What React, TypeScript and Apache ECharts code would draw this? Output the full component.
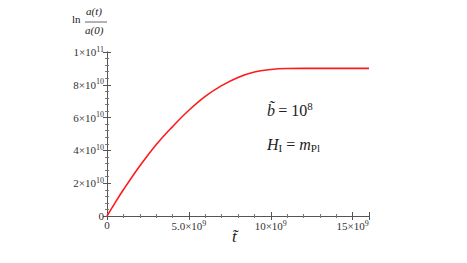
import React, { useEffect, useRef } from "react";
import * as echarts from "echarts";

// t in units of 1e9, ln(a(t)/a(0)) in units of 1e10
const tValues = [0, 0.5, 1, 2, 3, 4, 5, 6, 7, 8, 9, 10, 11, 12, 16];
const lnValues = [0, 0.82, 1.6, 3.05, 4.35, 5.45, 6.45, 7.3, 7.95, 8.45, 8.78, 8.93, 8.99, 9.0, 9.0];
const xTickLabels: Record<number, string> = { 0: "{b|0}", 5: "{b|5.0×10}{s|9}", 10: "{b|10×10}{s|9}", 15: "{b|15×10}{s|9}" };
const yTickLabels: Record<number, string> = { 0: "{b|0}", 2: "{b|2×10}{s|10}", 4: "{b|4×10}{s|10}", 6: "{b|6×10}{s|10}", 8: "{b|8×10}{s|10}", 10: "{b|1×10}{s|11}" };

const SERIF = "'Liberation Serif', 'DejaVu Serif', serif";
const rich = {
  b: { fontFamily: SERIF, fontSize: 11, color: "#333" },
  s: { fontFamily: SERIF, fontSize: 8, color: "#333", padding: [0, 0, 6, 0] },
};

export default function App() {
  const ref = useRef<HTMLDivElement>(null);
  useEffect(() => {
    if (!ref.current) return;
    const chart = echarts.init(ref.current, null, { renderer: "svg" });
    const frameAxis = {
      axisLine: { show: true, lineStyle: { color: "#555", width: 1 } },
      axisTick: { show: true, inside: true, length: 4, lineStyle: { color: "#555" } },
      minorTick: { show: true, splitNumber: 5, length: 2, lineStyle: { color: "#777" } },
      splitLine: { show: false },
    };
    const t = (fs: number, style = "normal") => ({ fontFamily: SERIF, fontSize: fs, fontStyle: style, fill: "#222" });
    chart.setOption({
      animation: false,
      backgroundColor: "#fff",
      grid: { left: 107, right: 98, top: 52, bottom: 47 },
      xAxis: [
        {
          type: "value", min: 0, max: 16, interval: 5, ...frameAxis,
          axisLabel: { margin: 3, formatter: (v: number) => xTickLabels[v] ?? "", rich },
        },
        {
          type: "value", min: 0, max: 16, interval: 5, position: "top", ...frameAxis,
          axisLabel: { show: false },
        },
      ],
      yAxis: [
        {
          type: "value", min: 0, max: 10, interval: 2, ...frameAxis,
          axisLabel: { margin: 3, formatter: (v: number) => yTickLabels[v] ?? "", rich },
        },
        {
          type: "value", min: 0, max: 10, interval: 2, position: "right", ...frameAxis,
          axisLabel: { show: false },
        },
      ],
      series: [
        {
          type: "line",
          data: tValues.map((tv, i) => [tv, lnValues[i]]),
          smooth: 0.4,
          showSymbol: false,
          lineStyle: { color: "#ff1a1a", width: 1.6 },
        },
      ],
      graphic: [
        { type: "text", left: 72, top: 13, style: { text: "ln", ...t(11) } },
        { type: "text", left: 86, top: 5, style: { text: "a(t)", ...t(11, "italic") } },
        { type: "line", shape: { x1: 85, y1: 22, x2: 107, y2: 22 }, style: { stroke: "#222", lineWidth: 0.7 } },
        { type: "text", left: 85, top: 24, style: { text: "a(0)", ...t(11, "italic") } },
        { type: "text", left: 232, top: 228, style: { text: "t̃", ...t(17, "italic") } },
        {
          type: "text", left: 267, top: 100,
          style: {
            text: "{i|b̃} {n|= 10}{s|8}",
            rich: {
              i: t(16, "italic"),
              n: t(16),
              s: { ...t(11), padding: [0, 0, 9, 0] },
            },
          },
        },
        {
          type: "text", left: 267, top: 136,
          style: {
            text: "{i|H}{sub|I}{n| = }{i|m}{sub|Pl}",
            rich: {
              i: t(16, "italic"),
              n: t(16),
              sub: { ...t(11), padding: [7, 0, 0, 0] },
            },
          },
        },
      ],
    });
    return () => chart.dispose();
  }, []);
  return <div ref={ref} style={{ width: 467, height: 263, margin: -8 }} />;
}
